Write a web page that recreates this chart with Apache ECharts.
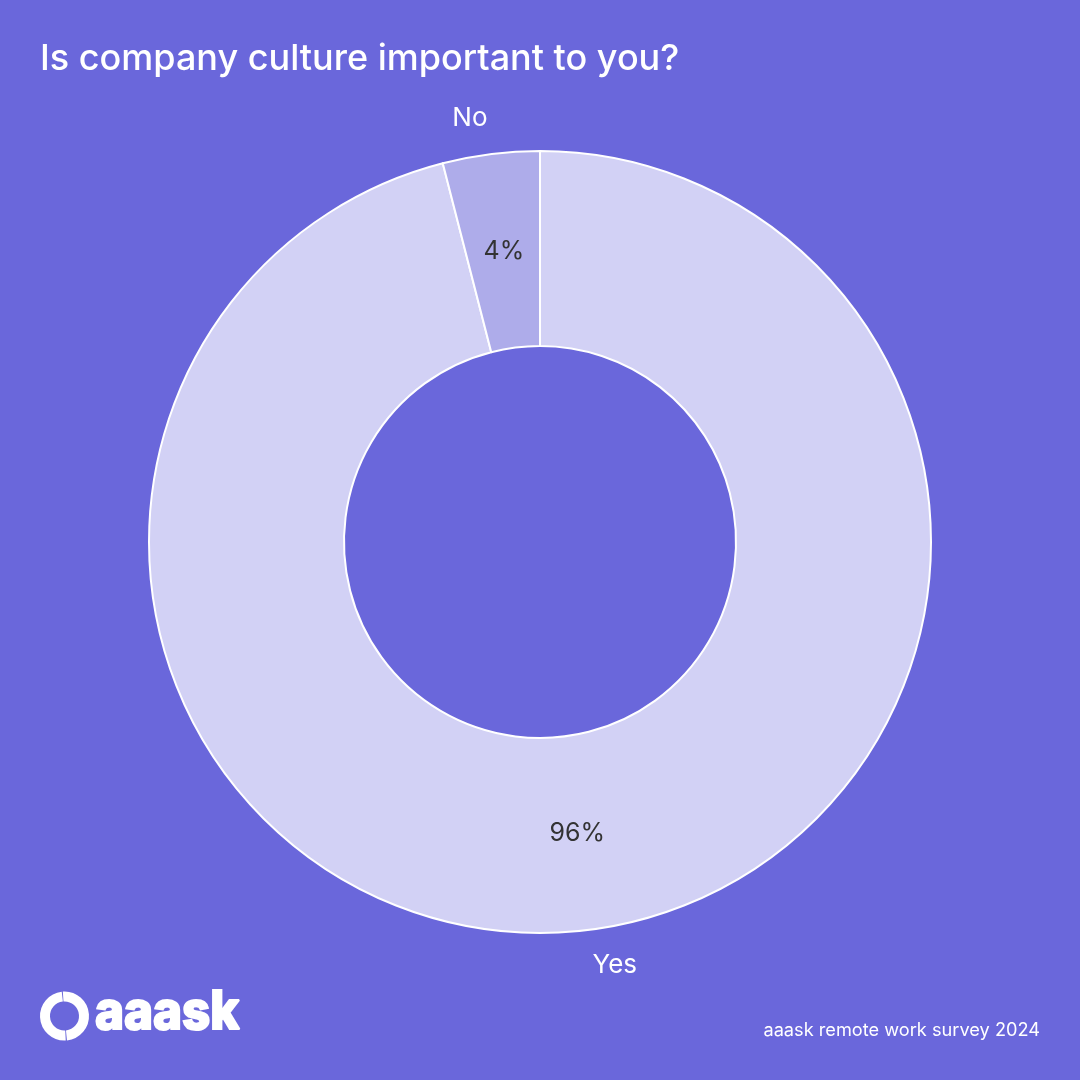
<!DOCTYPE html>
<html>
<head>
<meta charset="utf-8">
<style>
  html, body { margin: 0; padding: 0; background: #6a67db; }
  #chart { width: 1080px; height: 1080px; }
</style>
<script src="https://cdn.jsdelivr.net/npm/echarts@6/dist/echarts.min.js"></script>
</head>
<body>
<div id="chart"></div>
<script>
const titleText = 'Is company culture important to you?';
const sourceText = 'aaask remote work survey 2024';
const logoText = 'aaask';
const categories = ['Yes', 'No'];
const values = [96, 4];
const sliceColors = ['#d2d1f5', '#aeacea'];

const fontName = 'Inter';
const chart = echarts.init(document.getElementById('chart'));

const percentOffsets = [[0, -3], [1, 4]]; // percent labels sit a bit closer to the middle

const pieData = categories.map((name, i) => ({
  name: name,
  value: values[i],
  itemStyle: { color: sliceColors[i] },
  label: { offset: percentOffsets[i] },
}));

chart.setOption({
  backgroundColor: '#6a67db',
  animation: false,
  title: {
    text: titleText,
    left: 35,
    top: 36,
    textStyle: { color: '#ffffff', fontFamily: fontName, fontSize: 36, fontWeight: 500 },
  },
  series: [
    // slices and the percent inside them
    {
      type: 'pie',
      center: [540, 542],
      radius: [196, 391],
      startAngle: 90,
      clockwise: true,
      data: pieData,
      itemStyle: { borderColor: '#ffffff', borderWidth: 2 },
      label: {
        position: 'inside',
        formatter: '{d}%',
        color: '#333333',
        fontFamily: fontName,
        fontSize: 25,
      },
      labelLine: { show: false },
    },
    // category names outside the ring
    {
      type: 'pie',
      center: [540, 542],
      radius: [196, 391],
      startAngle: 90,
      clockwise: true,
      silent: true,
      data: categories.map((name, i) => ({ name: name, value: values[i], itemStyle: { color: 'transparent' } })),
      itemStyle: { borderWidth: 0 },
      label: {
        position: 'outside',
        formatter: '{b}',
        color: '#ffffff',
        fontFamily: fontName,
        fontSize: 26,
      },
      labelLine: { show: false, length: 36, length2: -6 },
    },
  ],
  graphic: [
    // logo ring, two halves with a hairline gap
    {
      type: 'arc',
      shape: { cx: 64.5, cy: 1016, r: 19.5, startAngle: -1.64, endAngle: 1.47 },
      style: { stroke: '#ffffff', fill: 'none', lineWidth: 10 },
    },
    {
      type: 'arc',
      shape: { cx: 64.5, cy: 1016, r: 19.5, startAngle: 1.52, endAngle: 4.60 },
      style: { stroke: '#ffffff', fill: 'none', lineWidth: 10 },
    },
    {
      type: 'text',
      x: 95,
      y: 987,
      scaleX: 0.93,
      style: {
        text: logoText,
        fill: '#ffffff',
        stroke: '#ffffff',
        lineWidth: 2,
        font: '800 53px Inter',
      },
    },
    {
      type: 'text',
      right: 40,
      top: 1022,
      style: {
        text: sourceText,
        fill: '#ffffff',
        font: '400 18.2px Inter',
      },
    },
  ],
});
</script>
</body>
</html>
